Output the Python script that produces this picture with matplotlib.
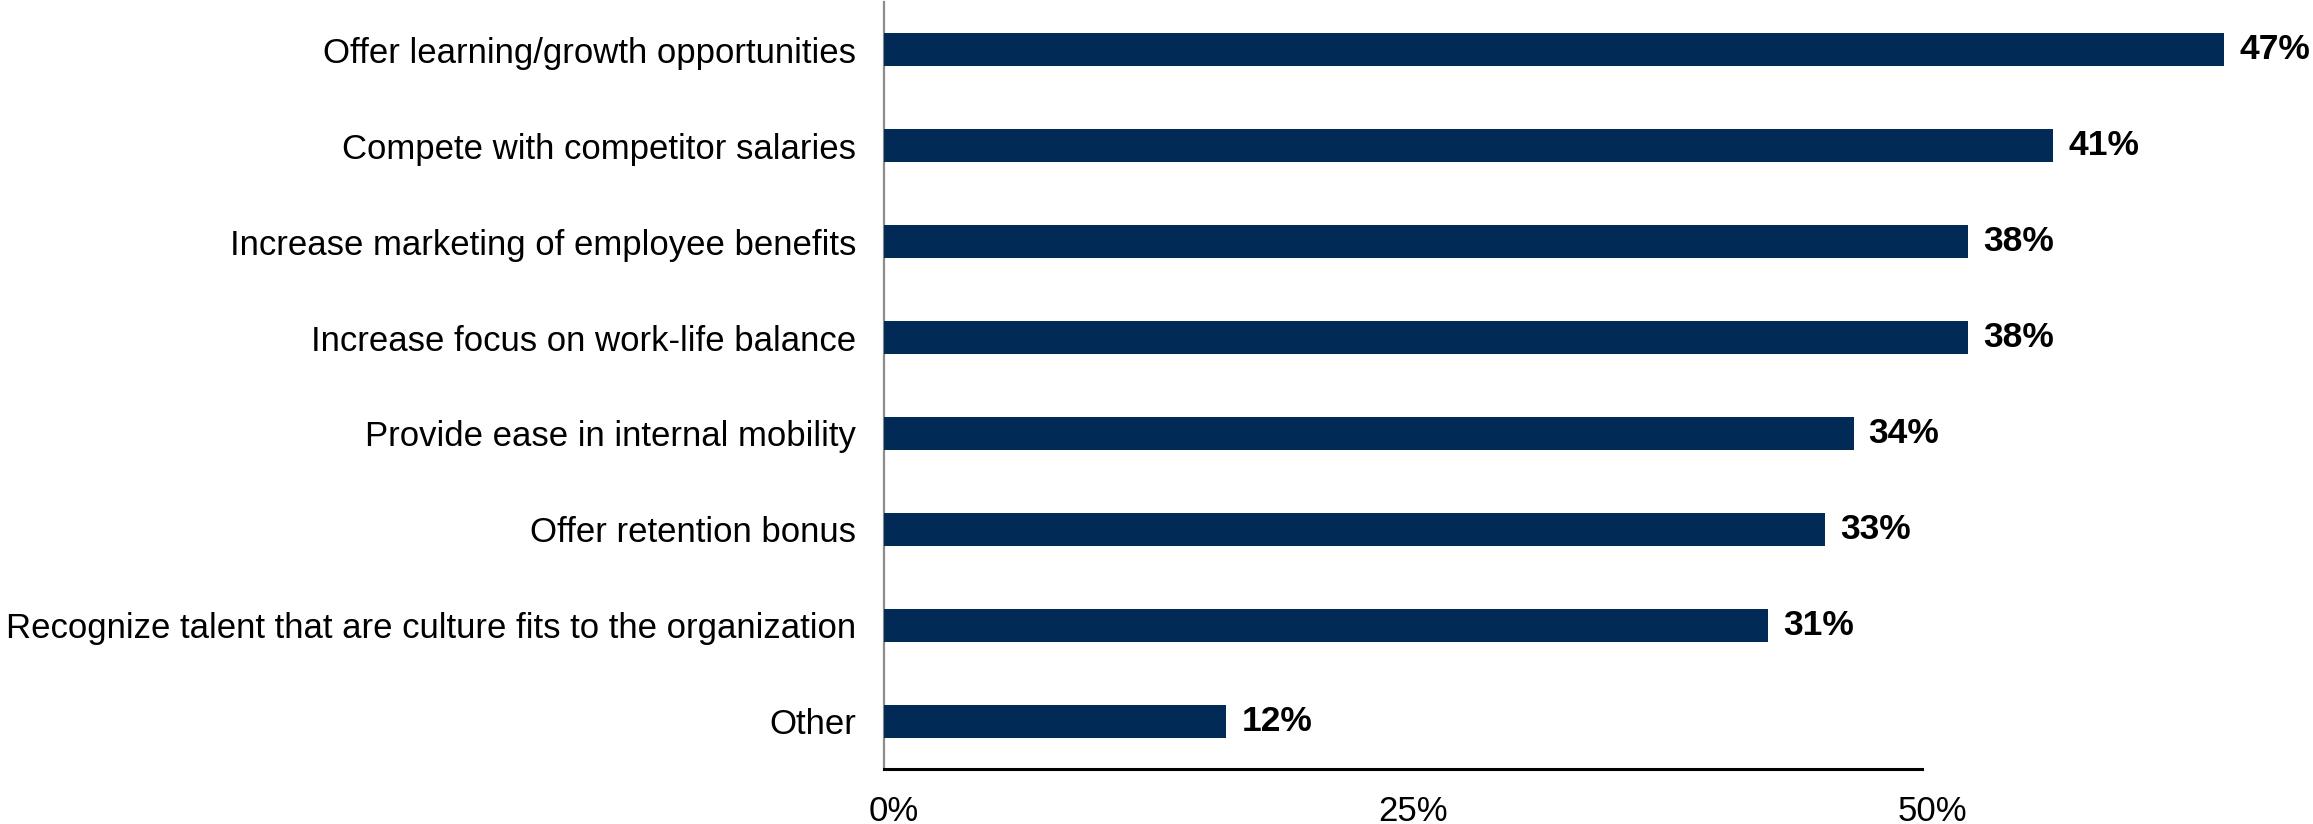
import matplotlib.pyplot as plt
import matplotlib.transforms as mtransforms
import numpy as np

plt.rcParams['font.family'] = ['Liberation Sans', 'DejaVu Sans']

categories = [
    'Offer learning/growth opportunities',
    'Compete with competitor salaries',
    'Increase marketing of employee benefits',
    'Increase focus on work-life balance',
    'Provide ease in internal mobility',
    'Offer retention bonus',
    'Recognize talent that are culture fits to the organization',
    'Other',
]
values = [47, 41, 38, 38, 34, 33, 31, 12]
tick_labels = ['0%', '25%', '50%']

BAR_COLOR = '#012a57'
XMAX = 36.4

fig = plt.figure(figsize=(23.13, 8.24), dpi=100)
ax = fig.add_axes([0.3822, 0.0667, 0.4488, 0.931])

ypos = list(range(len(categories)))
bars = ax.barh(ypos, values, height=0.345, color=BAR_COLOR, clip_on=False, zorder=3)

# value labels to the right of each bar
for y, v in zip(ypos, values):
    ax.annotate(f'{v}%', xy=(v, y), xytext=(15, 0), textcoords='offset pixels',
                va='center', ha='left', fontsize=25.5, fontweight='bold',
                color='black', annotation_clip=False)

ax.set_ylim(len(categories) - 0.5, -0.5)
ax.set_xlim(0, XMAX)
ax.set_yticks(ypos)
ax.set_yticklabels(categories, fontsize=25)
ax.set_xticks(np.linspace(0, XMAX, len(tick_labels)))
ax.set_xticklabels(tick_labels, fontsize=25)
ax.tick_params(axis='both', length=0)
ax.tick_params(axis='y', pad=20)
ax.tick_params(axis='x', pad=19)

# x tick labels sit a little right of their positions
shift = mtransforms.ScaledTranslation(10 / 100, 0, fig.dpi_scale_trans)
for lbl in ax.get_xticklabels():
    lbl.set_transform(lbl.get_transform() + shift)

for s in ['top', 'right']:
    ax.spines[s].set_visible(False)
ax.spines['left'].set_color('#8c8c8c')
ax.spines['left'].set_linewidth(1.6)
ax.spines['bottom'].set_color('black')
ax.spines['bottom'].set_linewidth(2.2)

fig.savefig('out.png', dpi=100)
